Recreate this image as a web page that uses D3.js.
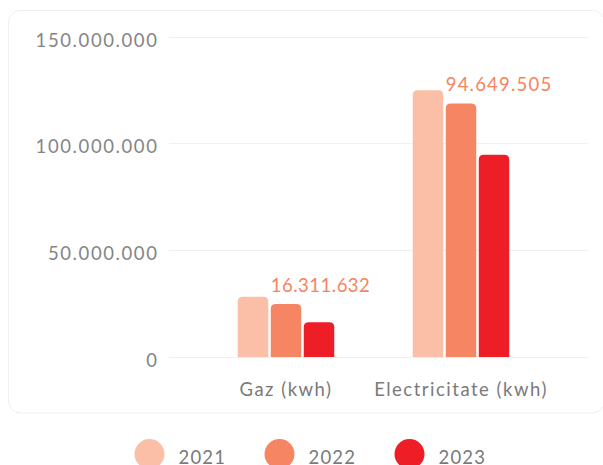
<!DOCTYPE html>
<html>
<head>
<meta charset="utf-8">
<script src="https://cdn.jsdelivr.net/npm/d3@7"></script>
<style>
  html, body { margin: 0; padding: 0; background: #ffffff; }
  svg { display: block; }
</style>
</head>
<body>
<svg id="chart" width="603" height="465"></svg>
<script>
// ---- data ----
const categories = ["Gaz (kwh)", "Electricitate (kwh)"];
const years = ["2021", "2022", "2023"];
const values2021 = [28200000, 124900000];
const values2022 = [24800000, 118700000];
const values2023 = [16311632, 94649505];
const labelValues = [16311632, 94649505];
const yTicks = [0, 50000000, 100000000, 150000000];
const colors = ["#FABFA6", "#F58563", "#ED1E26"];

const series = [values2021, values2022, values2023];
const FONT = "Lato, 'Open Sans', sans-serif";

const svg = d3.select("#chart");

// card
svg.append("rect")
  .attr("x", 8.5).attr("y", 10.5)
  .attr("width", 596).attr("height", 402.5)
  .attr("rx", 12).attr("ry", 12)
  .attr("fill", "#ffffff")
  .attr("stroke", "#efefef").attr("stroke-width", 1);

const locale = d3.formatLocale({ decimal: ",", thousands: ".", grouping: [3], currency: ["", ""] });
const fmt = locale.format(",d");

const y = d3.scaleLinear().domain([0, 150000000]).range([357, 36.5]);
const x0 = d3.scaleBand().domain(categories).range([198.5, 548.5]).padding(0);
const x1 = d3.scaleBand().domain(years).range([0, 99]).padding(0);
const barW = x1.bandwidth() - 2.5;
const groupW = 2 * x1.step() + barW;
const groupStart = c => x0(c) + (x0.bandwidth() - groupW) / 2;

// gridlines
svg.append("g").selectAll("line").data(yTicks).join("line")
  .attr("x1", 169).attr("x2", 588)
  .attr("y1", d => Math.round(y(d)) + 0.5).attr("y2", d => Math.round(y(d)) + 0.5)
  .attr("stroke", "#f0f0f0").attr("stroke-width", 1);

// y axis labels
const yAxis = d3.axisLeft(y).tickValues(yTicks).tickFormat(fmt).tickSize(0).tickPadding(0);
const gy = svg.append("g").attr("transform", "translate(158.5,0)").call(yAxis);
gy.select(".domain").remove();
gy.selectAll("text")
  .attr("font-family", FONT).attr("font-size", 18.5)
  .attr("fill", "#858585").attr("dy", "0.65em").attr("y", -2.5)
  .style("letter-spacing", "1.6px");

// x axis labels
const xAxis = d3.axisBottom(x0).tickSize(0).tickPadding(0);
const gx = svg.append("g").attr("transform", "translate(0,381)").call(xAxis);
gx.select(".domain").remove();
gx.selectAll("text")
  .attr("font-family", FONT).attr("font-size", 18.5)
  .attr("fill", "#7a7a7a").attr("dy", "0.8em")
  .style("letter-spacing", "1.5px");

// bars with rounded top corners
function topRounded(x, yTop, w, yBase, r) {
  r = Math.min(r, w / 2, (yBase - yTop));
  return `M${x},${yBase}V${yTop + r}Q${x},${yTop} ${x + r},${yTop}H${x + w - r}Q${x + w},${yTop} ${x + w},${yTop + r}V${yBase}Z`;
}

const barData = [];
categories.forEach((c, ci) => {
  years.forEach((yr, yi) => {
    barData.push({ c, yr, yi, v: series[yi][ci] });
  });
});

svg.append("g").selectAll("path").data(barData).join("path")
  .attr("d", d => topRounded(groupStart(d.c) + x1(d.yr), y(d.v), barW, y(0), 5))
  .attr("fill", d => colors[d.yi]);

// value labels
svg.append("g").selectAll("text").data(categories).join("text")
  .attr("x", (c, i) => groupStart(c) + x1("2022"))
  .attr("y", (c, i) => y(values2022[i]) - 12)
  .attr("font-family", FONT).attr("font-size", 18.5)
  .attr("fill", "#F5845F")
  .style("letter-spacing", (c, i) => i === 0 ? "0.5px" : "1.2px")
  .text((c, i) => fmt(labelValues[i]));

// legend
const legend = svg.append("g");
const lx = d3.scaleBand().domain(years).range([84.5, 474.5]);
const items = legend.selectAll("g").data(years).join("g")
  .attr("transform", d => `translate(${lx(d) + lx.bandwidth() / 2},454)`);
items.append("circle").attr("r", 15).attr("fill", (d, i) => colors[i]);
items.append("text")
  .attr("x", 29).attr("y", 10)
  .attr("font-family", FONT).attr("font-size", 18.5)
  .attr("fill", "#7a7a7a")
  .style("letter-spacing", "1.2px")
  .text(d => d);
</script>
</body>
</html>
